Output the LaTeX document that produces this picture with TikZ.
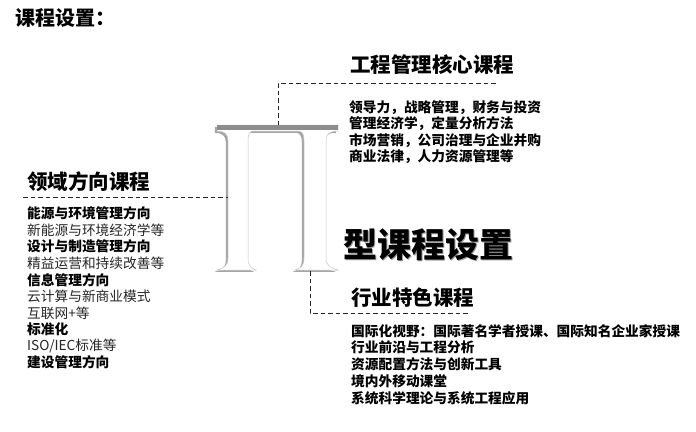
\documentclass[tikz,border=0pt]{standalone}
\usepackage{fontspec}
\newfontfamily\cjk{Noto Sans CJK SC}
\begin{document}
\begin{tikzpicture}[x=1pt,y=-1pt,
  head/.style={anchor=west, inner sep=0pt, font=\cjk\bfseries\fontsize{20.5}{24}\selectfont},
  itemb/.style={anchor=west, inner sep=0pt, font=\cjk\bfseries\fontsize{13.7}{16}\selectfont},
  itemr/.style={anchor=west, inner sep=0pt, text=black!85, font=\cjk\fontsize{13.7}{16}\selectfont},
  dline/.style={dash pattern=on 4.5pt off 3pt, line width=1pt, black!85},
  big/.style={anchor=west, inner sep=0pt, font=\cjk\bfseries\fontsize{34}{40}\selectfont}]
\useasboundingbox[fill=white] (0,0) rectangle (696,431);

% title
\node[head, font=\cjk\bfseries\fontsize{20}{24}\selectfont] (title) at (15,18) {课程设置：};

% big Pi letter (shadow + white body)
\begin{scope}[shift={(-2.2,1.8)}]
\fill[black!35]
 (217,125) -- (338,125) -- (338,131) .. controls (330,131) and (326,134) .. (326,140)
 -- (326,258) .. controls (326,266) and (331,268) .. (338,270) -- (295,270)
 .. controls (301,268) and (304,266) .. (304,258) -- (304,140)
 .. controls (304,134) and (302,131) .. (298,131) -- (253,131)
 .. controls (250,131) and (248,134) .. (248,140)
 -- (248,258) .. controls (248,266) and (251,268) .. (256,270) -- (217,270)
 .. controls (224,268) and (228,266) .. (228,258) -- (228,140)
 .. controls (228,134) and (224,131) .. (217,131) -- cycle;
\end{scope}
\filldraw[fill=white, draw=black!22, line width=0.5pt]
 (217,125) -- (338,125) -- (338,131) .. controls (330,131) and (326,134) .. (326,140)
 -- (326,258) .. controls (326,266) and (331,268) .. (338,270) -- (295,270)
 .. controls (301,268) and (304,266) .. (304,258) -- (304,140)
 .. controls (304,134) and (302,131) .. (298,131) -- (253,131)
 .. controls (250,131) and (248,134) .. (248,140)
 -- (248,258) .. controls (248,266) and (251,268) .. (256,270) -- (217,270)
 .. controls (224,268) and (228,266) .. (228,258) -- (228,140)
 .. controls (228,134) and (224,131) .. (217,131) -- cycle;
\fill[black!45] (217,125) rectangle (338,129.5);

\coordinate (pitop) at (278,125);
\coordinate (pileft) at (228,197);
\coordinate (pibot) at (310,271);

% 型课程设置 with shadow
\node[big] (bigt) at (343,245) {\makebox[0pt][l]{\hspace{1.5pt}\raisebox{-1.5pt}{\textcolor{black!40}{型课程设置}}}型课程设置};

% core courses
\node[head] (core) at (350,65) {工程管理核心课程};
\coordinate (coreend) at (497,83);
\draw[dline] (pitop) -- (pitop |- coreend) -- (coreend);
\node[itemb] (c1) at (349,108) {领导力，战略管理，财务与投资};
\node[itemb] (c2) at (349,124) {管理经济学，定量分析方法};
\node[itemb] (c3) at (349,140.5) {市场营销，公司治理与企业并购};
\node[itemb] (c4) at (349,157) {商业法律，人力资源管理等};

% field direction courses
\node[head] (field) at (27,182) {领域方向课程};
\coordinate (fieldstart) at (23,197);
\draw[dline] (fieldstart) -- (pileft);
\node[itemb] (f1) at (27,213) {能源与环境管理方向};
\node[itemr] (f2) at (27,230) {新能源与环境经济学等};
\node[itemb] (f3) at (27,246.5) {设计与制造管理方向};
\node[itemr] (f4) at (27,263) {精益运营和持续改善等};
\node[itemb] (f5) at (27,280) {信息管理方向};
\node[itemr] (f6) at (27,296.5) {云计算与新商业模式};
\node[itemr] (f7) at (27,313) {互联网+等};
\node[itemb] (f8) at (27,329.5) {标准化};
\node[itemr] (f9) at (27,346) {ISO/IEC标准等};
\node[itemb] (f10) at (27,362.5) {建设管理方向};

% industry courses
\node[head] (ind) at (351,298) {行业特色课程};
\coordinate (indend) at (468,313);
\draw[dline] (pibot) -- (pibot |- indend) -- (indend);
\node[itemb] (i1) at (351,331) {国际化视野：国际著名学者授课、国际知名企业家授课};
\node[itemb] (i2) at (351,347.5) {行业前沿与工程分析};
\node[itemb] (i3) at (351,364) {资源配置方法与创新工具};
\node[itemb] (i4) at (351,381) {境内外移动课堂};
\node[itemb] (i5) at (351,398) {系统科学理论与系统工程应用};
\end{tikzpicture}
\end{document}
